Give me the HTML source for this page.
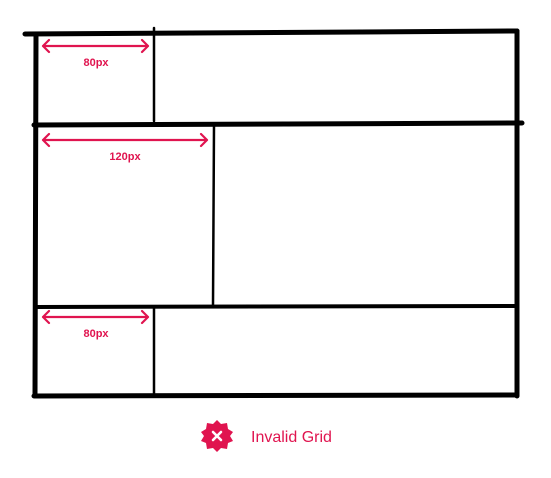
<!DOCTYPE html>
<html><head><meta charset="utf-8"><style>body{margin:0;background:#fff}svg{display:block}</style></head>
<body>
<svg width="551" height="478" viewBox="0 0 551 478" xmlns="http://www.w3.org/2000/svg" font-family="Liberation Sans, sans-serif">
<g stroke="#000" stroke-linecap="round" fill="none">
<path d="M25 34 L517 31" stroke-width="5"/>
<path d="M36 34 L35 396" stroke-width="5"/>
<path d="M517 31 L517 396" stroke-width="5"/>
<path d="M34 396 L517 395" stroke-width="5"/>
<path d="M34 125 L522 123" stroke-width="5"/>
<path d="M36 307 L517 306" stroke-width="4"/>
<path d="M154 28 L154 121" stroke-width="2.5"/>
<path d="M214 125 L213 305" stroke-width="2.5"/>
<path d="M154 308 L154 396" stroke-width="2.5"/>
</g>
<g stroke="#e0144f" stroke-width="2.2" fill="none" stroke-linecap="round" stroke-linejoin="round">
<path d="M43 46 L148 46 M49 40 L43 46 L49 52 M142 40 L148 46 L142 52"/>
<path d="M43 140 L207 140 M49 134 L43 140 L49 146 M201 134 L207 140 L201 146"/>
<path d="M43 317 L148 317 M49 311 L43 317 L49 323 M142 311 L148 317 L142 323"/>
</g>
<g fill="#e0144f" font-size="11" font-weight="bold" text-anchor="middle">
<text x="96" y="66">80px</text>
<text x="125" y="160">120px</text>
<text x="96" y="337">80px</text>
</g>
<g>
<polygon fill="#e0144f" points="217,420 221,424 227,423 228,429 233,432 230,436 233,441 228,443 227,449 221,448 217,452 213,448 207,449 206,443 201,441 204,436 201,432 206,429 207,423 213,424"/>
<path d="M213 432 L221 440 M221 432 L213 440" stroke="#fff" stroke-width="2.6" stroke-linecap="round"/>
<text x="251" y="442" fill="#e0144f" font-size="16">Invalid Grid</text>
</g>
</svg>
</body></html>
